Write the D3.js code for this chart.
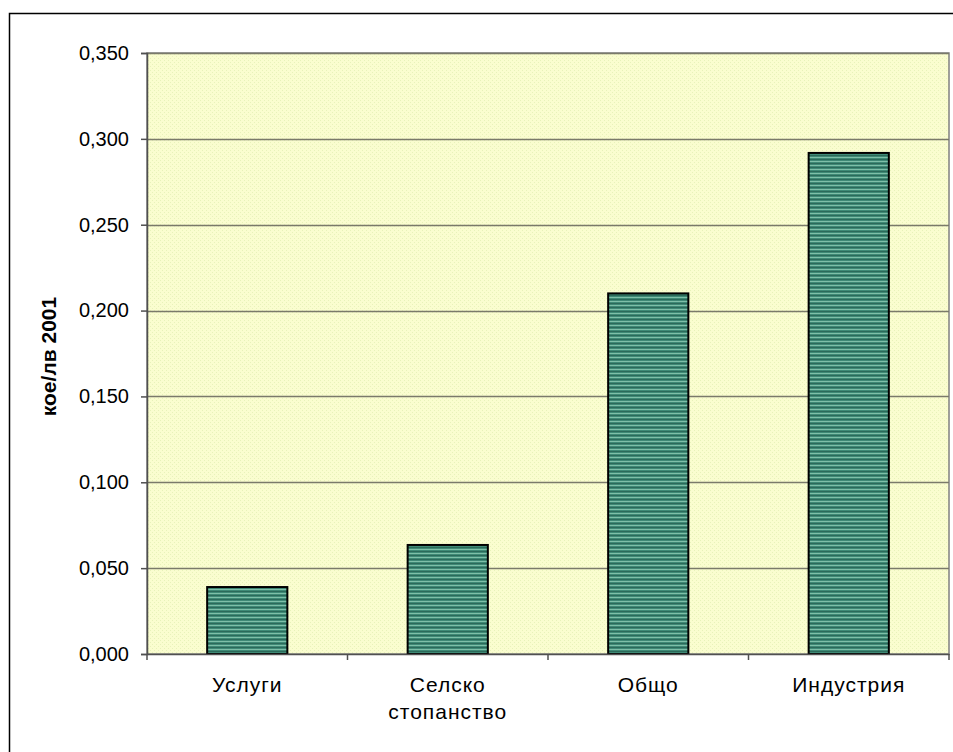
<!DOCTYPE html>
<html><head><meta charset="utf-8">
<script src="https://cdn.jsdelivr.net/npm/d3@7"></script>
<style>body{margin:0;background:#fff;} svg{display:block;}</style>
</head><body>
<svg id="c" width="953" height="752"></svg>
<script>
const categories = [["Услуги"], ["Селско","стопанство"], ["Общо"], ["Индустрия"]];
const values = [0.039, 0.0635, 0.210, 0.2918];
const yTicks = [0, 0.05, 0.10, 0.15, 0.20, 0.25, 0.30, 0.35];
const yTitle = "кое/лв 2001";

const svg = d3.select("#c");
const defs = svg.append("defs");
const bg = defs.append("pattern").attr("id","bgp").attr("width",4).attr("height",4).attr("patternUnits","userSpaceOnUse");
bg.append("rect").attr("width",4).attr("height",4).attr("fill","#fafdcf");
bg.append("rect").attr("x",0).attr("y",0).attr("width",1).attr("height",1).attr("fill","#e8f2ba");
bg.append("rect").attr("x",2).attr("y",2).attr("width",1).attr("height",1).attr("fill","#e8f2ba");
const bp = defs.append("pattern").attr("id","barp").attr("width",4).attr("height",4).attr("patternUnits","userSpaceOnUse");
bp.append("rect").attr("width",4).attr("height",4).attr("fill","#3f8a76");
bp.append("rect").attr("y",1).attr("width",4).attr("height",1).attr("fill","#7fbfa8");
bp.append("rect").attr("y",3).attr("width",4).attr("height",1).attr("fill","#2c6a5a");

svg.append("rect").attr("x",9.5).attr("y",13.5).attr("width",1000).attr("height",1000).attr("fill","#fff").attr("stroke","#000").attr("stroke-width",1.5);

const m = {l:147, t:53, r:949, b:654};
const x = d3.scaleBand().domain(d3.range(categories.length)).range([m.l, m.r]).paddingInner(0.6).paddingOuter(0.3);
const xb = d3.scaleBand().domain(d3.range(categories.length)).range([m.l, m.r]);
const y = d3.scaleLinear().domain([0, 0.35]).range([m.b, m.t]);

svg.append("rect").attr("x",m.l).attr("y",m.t).attr("width",m.r-m.l).attr("height",m.b-m.t).attr("fill","url(#bgp)").attr("stroke","#808080").attr("stroke-width",1.5);

svg.append("g").selectAll("line").data(yTicks.slice(1)).join("line")
  .attr("x1",m.l).attr("x2",m.r).attr("y1",d=>Math.round(y(d))+0.5).attr("y2",d=>Math.round(y(d))+0.5)
  .attr("stroke","#7a7a6a").attr("stroke-width",1.5);

// y axis
const ya = svg.append("g").attr("transform",`translate(${m.l},0)`)
  .call(d3.axisLeft(y).tickValues(yTicks).tickSize(6).tickPadding(12).tickFormat(d=>d3.format(".3f")(d).replace(".",",")));
ya.select(".domain").attr("stroke","#505050").attr("stroke-width",1.5);
ya.selectAll(".tick line").attr("stroke","#505050").attr("stroke-width",1.5);
ya.selectAll("text").attr("font-family","Liberation Sans, Arial, sans-serif").attr("font-size",20).attr("fill","#000");

// bars
svg.append("g").selectAll("rect").data(values).join("rect")
  .attr("x",(d,i)=>x(i)).attr("width",x.bandwidth())
  .attr("y",d=>y(d)).attr("height",d=>y(0)-y(d))
  .attr("fill","url(#barp)").attr("stroke","#000").attr("stroke-width",2);

// x axis
const xa = svg.append("g").attr("transform",`translate(0,${m.b})`)
  .call(d3.axisBottom(xb).tickSize(0).tickFormat(""));
xa.select(".domain").attr("stroke","#505050").attr("stroke-width",1.5);
svg.append("g").selectAll("line").data(d3.range(categories.length+1)).join("line")
  .attr("x1",i=>m.l+i*xb.step()).attr("x2",i=>m.l+i*xb.step())
  .attr("y1",m.b).attr("y2",m.b+6).attr("stroke","#505050").attr("stroke-width",1.5);

const lab = svg.append("g").selectAll("text").data(categories).join("text")
  .attr("x",(d,i)=>xb(i)+xb.bandwidth()/2).attr("y",692)
  .attr("text-anchor","middle").attr("font-family","Liberation Sans, Arial, sans-serif")
  .attr("font-size",21).attr("letter-spacing",1).attr("fill","#000");
lab.selectAll("tspan").data(d=>d).join("tspan")
  .attr("x",function(){return this.parentNode.getAttribute("x");})
  .attr("dy",(d,i)=>i===0?0:27).text(d=>d);

svg.append("text").attr("transform",`translate(56,${(m.t+m.b)/2 + 3}) rotate(-90)`)
  .attr("text-anchor","middle").attr("font-family","Liberation Sans, Arial, sans-serif")
  .attr("font-weight","bold").attr("font-size",21).text(yTitle);
</script>
</body></html>
